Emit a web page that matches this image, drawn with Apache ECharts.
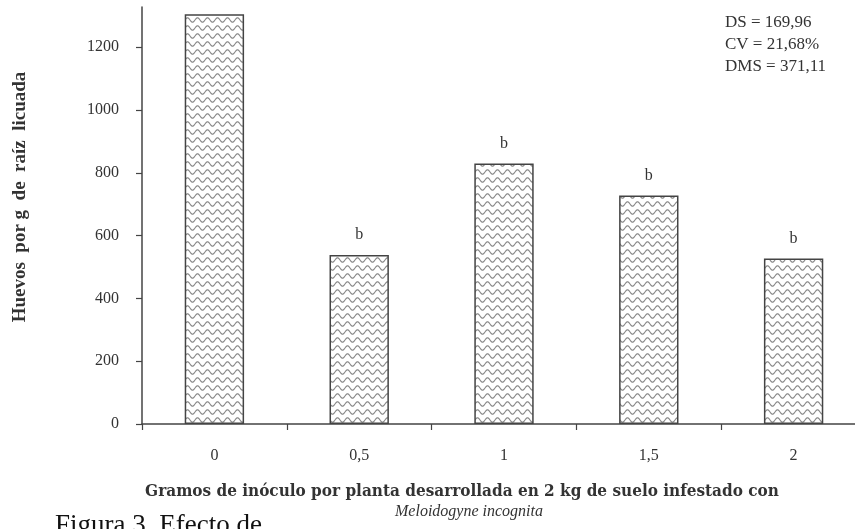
<!DOCTYPE html>
<html>
<head>
<meta charset="utf-8">
<script src="https://cdn.jsdelivr.net/npm/echarts@6/dist/echarts.min.js"></script>
<style>
html,body{margin:0;padding:0;background:#fff;overflow:hidden;width:855px;height:529px;}
#chart{width:866px;height:529px;}
</style>
</head>
<body>
<div id="chart"></div>
<script>
const categories = ['0', '0,5', '1', '1,5', '2'];
const values = [1305, 538, 830, 728, 527];
const letters = ['', 'b', 'b', 'b', 'b'];
const yTicks = [0, 200, 400, 600, 800, 1000, 1200];
const statsLines = ['DS = 169,96', 'CV = 21,68%', 'DMS = 371,11'];
const yTitle = 'Huevos  por g  de  raíz  licuada';
const xTitle1 = 'Gramos de inóculo por planta desarrollada en 2 kg de suelo infestado con';
const xTitle2 = 'Meloidogyne incognita';
const caption = 'Figura 3. Efecto de';

const FONT = '"Liberation Serif", "DejaVu Serif", serif';
const CFONT = '"DejaVu Serif Condensed", "Liberation Serif", serif';

// wavy pattern
const pc = document.createElement('canvas');
pc.width = 10; pc.height = 8;
const ctx = pc.getContext('2d');
ctx.fillStyle = '#ffffff';
ctx.fillRect(0, 0, 10, 8);
ctx.strokeStyle = '#888888';
ctx.lineWidth = 1.1;
ctx.beginPath();
for (let i = -1; i <= 11; i++) {
  const y = 4 + 2.2 * Math.sin(2 * Math.PI * i / 10);
  if (i === -1) ctx.moveTo(i, y); else ctx.lineTo(i, y);
}
ctx.stroke();

const chart = echarts.init(document.getElementById('chart'), null, {renderer: 'canvas'});
chart.setOption({
  animation: false,
  backgroundColor: '#fff',
  grid: {left: 142, top: 7, right: 0, height: 417, containLabel: false},
  xAxis: {
    type: 'category',
    data: categories,
    boundaryGap: true,
    axisLine: {lineStyle: {color: '#444', width: 1.5}},
    axisTick: {show: true, length: 6, lineStyle: {color: '#444', width: 1.2}},
    axisLabel: {color: '#333', fontFamily: FONT, fontSize: 16, margin: 24}
  },
  yAxis: {
    type: 'value',
    min: 0, max: 1328,
    splitLine: {show: false},
    axisLine: {show: true, lineStyle: {color: '#444', width: 1.5}},
    axisTick: {show: true, length: 6, customValues: yTicks, lineStyle: {color: '#444', width: 1.2}},
    axisLabel: {customValues: yTicks, formatter: v => String(v), color: '#333', fontFamily: FONT, fontSize: 16, margin: 23}
  },
  series: [{
    type: 'bar',
    data: values,
    barWidth: '41%',
    itemStyle: {
      color: {image: pc, repeat: 'repeat'},
      borderColor: '#444',
      borderWidth: 1.5
    },
    label: {
      show: true,
      position: 'top',
      distance: 12,
      color: '#333',
      fontFamily: FONT,
      fontSize: 16,
      formatter: p => letters[p.dataIndex]
    }
  }],
  graphic: [
    {type: 'text', left: 725, top: 12, style: {text: statsLines.join('\n'), font: '17px ' + FONT, fill: '#333', lineHeight: 22}},
    {type: 'text', x: 20, y: 197, rotation: Math.PI / 2, style: {text: yTitle, font: 'bold 19px ' + FONT, fill: '#333', align: 'center', verticalAlign: 'middle'}},
    {type: 'text', x: 462, y: 492, style: {text: xTitle1, font: 'bold 17px ' + CFONT, fill: '#333', align: 'center', verticalAlign: 'middle'}},
    {type: 'text', x: 469, y: 512, style: {text: xTitle2, font: 'italic 16px ' + FONT, fill: '#333', align: 'center', verticalAlign: 'middle'}},
    {type: 'text', x: 55, y: 512, z: -1, style: {text: caption, font: '27px ' + FONT, fill: '#111', align: 'left', verticalAlign: 'top'}}
  ]
});
</script>
</body>
</html>
